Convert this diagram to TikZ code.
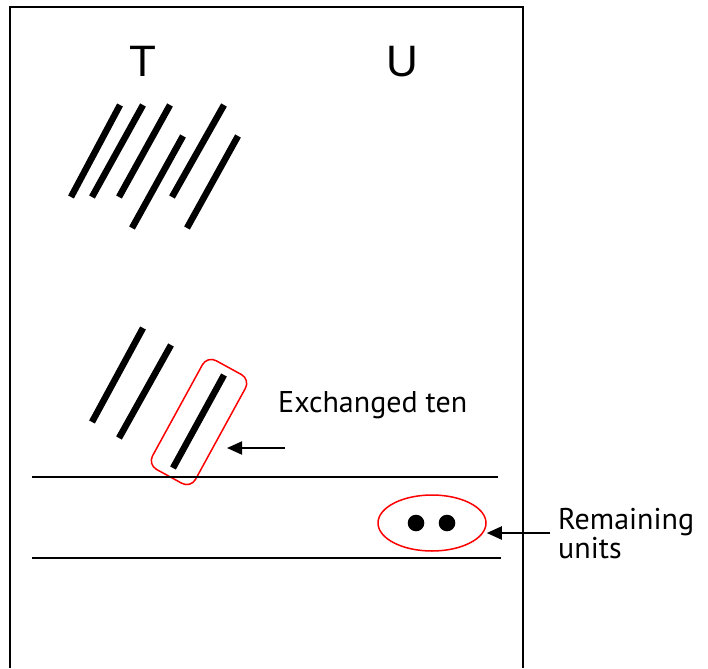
\documentclass[tikz,border=0pt]{standalone}
\usepackage{fontspec}
\setmainfont{Liberation Sans}
\newfontfamily\labelfont{PT Sans}
\usetikzlibrary{arrows.meta,shapes.geometric}
\begin{document}
\begin{tikzpicture}[x=1pt,y=-1pt,
  tally/.style={line width=6.5pt},
  frame/.style={line width=1.5pt},
  rulel/.style={line width=1.3pt},
  ring/.style={draw=red,line width=1.5pt,inner sep=0pt},
  pointer/.style={line width=2pt,-{Triangle[length=15pt,width=13pt]}},
  lbl/.style={font=\labelfont\fontsize{30}{26}\selectfont, inner sep=0pt, align=left},
  head/.style={font=\fontsize{44}{50}\selectfont, inner sep=0pt}]
\useasboundingbox (0,0) rectangle (708,668);
% frame
\draw[frame] (10,668) -- (10,7) -- (523,7) -- (523,668);
% column headings
\node[head,anchor=base] (T) at (143,77) {T};
\node[head,anchor=base] (U) at (402,77) {U};
% tallies (top group)
\draw[tally] (120,105) -- (71,197);
\draw[tally] (143,105) -- (92,197);
\draw[tally] (170,105) -- (119,197);
\draw[tally] (183,136) -- (132,228);
\draw[tally] (224,105) -- (172,197);
\draw[tally] (238,136) -- (187,228);
% tallies (lower group)
\draw[tally] (143,328) -- (92,422);
\draw[tally] (171,345) -- (119,438);
\draw[tally] (224,375) -- (173,468);
% red rounded box round the exchanged ten
\node[ring,rectangle,rounded corners=10pt,minimum width=124pt,minimum height=49pt,rotate=61.3] (box) at (199,422) {};
% horizontal rules
\draw[rulel] (32,477) -- (498,477);
\draw[rulel] (32,558) -- (501,558);
% units
\node[ring,ellipse,minimum width=108pt,minimum height=56pt] (ell) at (432,523) {};
\fill (416,523) circle[radius=8.3pt];
\fill (447,523) circle[radius=8.3pt];
% labels
\node[lbl,anchor=base west] (ex) at (278,412) {Exchanged ten};
\node[lbl,anchor=base west] (rem) at (558,558) {Remaining\\units};
% arrows
\coordinate (a1s) at (285,448);
\coordinate (a1e) at (227,448);
\coordinate (a2s) at (550,533);
\draw[pointer] (a1s) -- (a1e);
\draw[pointer] (a2s) -- (ell.east |- a2s);
\end{tikzpicture}
\end{document}
